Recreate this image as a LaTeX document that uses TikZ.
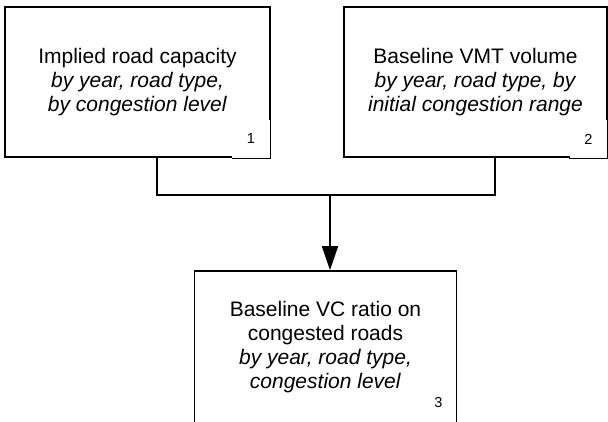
\documentclass[tikz,border=0pt]{standalone}
\usepackage{fontspec}
\setmainfont{Liberation Sans}
\usetikzlibrary{arrows.meta}
\tikzset{
  mainbox/.style={draw=black, line width=1.6pt, fill=white, rectangle, inner sep=0pt,
    minimum height=150pt, align=center, font=\fontsize{21}{24}\selectfont},
  openbox/.style={rectangle, inner sep=0pt, outer sep=0pt,
    minimum height=152pt, align=center, font=\fontsize{21}{24}\selectfont},
  numbox/.style={fill=white, inner sep=0pt, minimum width=38pt, minimum height=38pt,
    font=\fontsize{14.5}{16}\selectfont},
  numedge/.style={draw=black, line width=0.8pt},
  conn/.style={draw=black, line width=1.6pt},
}
\begin{document}
\begin{tikzpicture}[x=1pt, y=-1pt]
\useasboundingbox (0,0) rectangle (608,421);
% main boxes
\node[mainbox, minimum width=265pt] (b1) at (137.5,82)
  {Implied road capacity\\ \textit{by year, road type,}\\ \textit{by congestion level}};
\node[mainbox, minimum width=263pt] (b2) at (475.5,82)
  {Baseline VMT volume\\ \textit{by year, road type, by}\\ \textit{initial congestion range}};
\node[openbox, minimum width=262pt] (b3) at (325.5,347)
  {Baseline VC ratio on\\ congested roads\\ \textit{by year, road type,}\\ \textit{congestion level}};
\draw[conn] ([yshift=-4pt]b3.south west) -- (b3.north west) -- (b3.north east) -- ([yshift=-4pt]b3.south east);
% number boxes
\node[numbox] (n1) at (251,139) {1};
\draw[numedge] (n1.north east) -- (n1.south east) -- (n1.south west);
\node[numbox] (n2) at (588.5,139) {2};
\draw[numedge] (n2.north east) -- (n2.south east) -- (n2.south west);
\node[numbox, fill=none] (n3) at (438.5,403) {3};
% connectors
\coordinate (j) at (330,195);
\draw[conn] ([xshift=19.5pt]b1.south) |- (j) -| ([xshift=19.5pt]b2.south);
\draw[conn, -{Triangle[length=24pt,width=16pt]}] (j) -- ([yshift=0.8pt]j |- b3.north);
\end{tikzpicture}
\end{document}
